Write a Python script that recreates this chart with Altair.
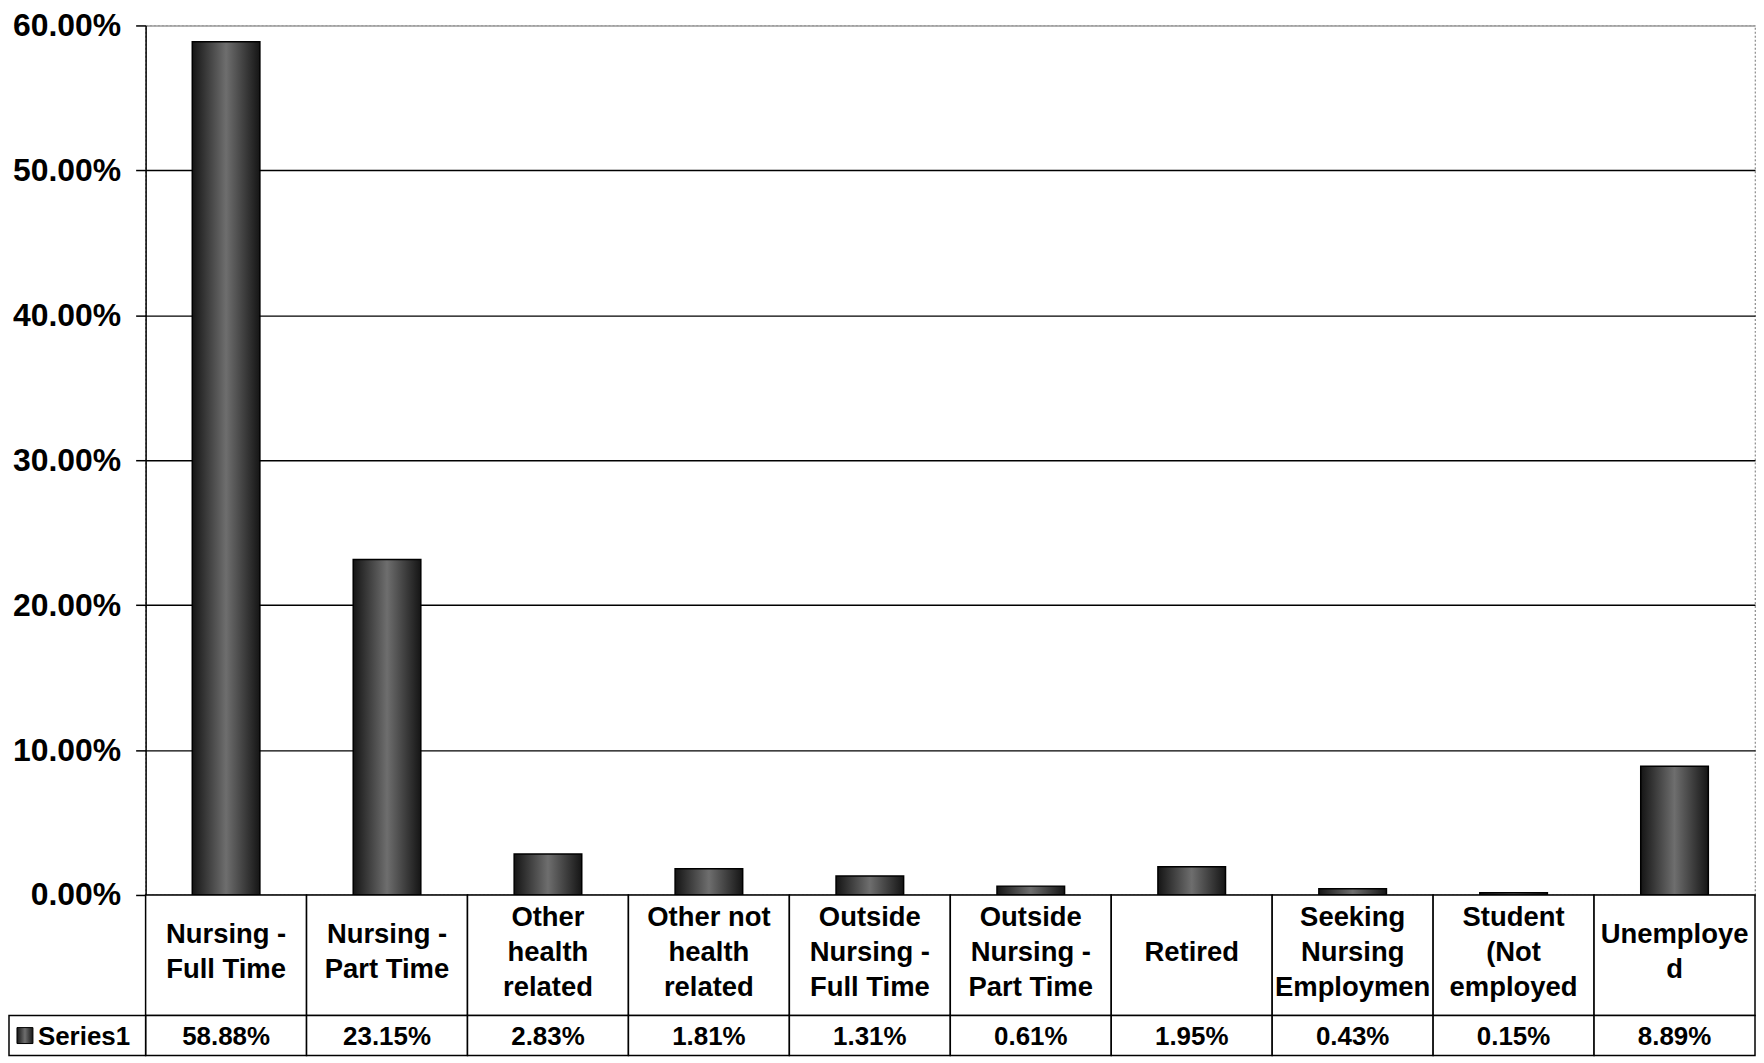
import altair as alt
import pandas as pd

categories = [
    "Nursing - Full Time", "Nursing - Part Time", "Other health related",
    "Other not health related", "Outside Nursing - Full Time",
    "Outside Nursing - Part Time", "Retired", "Seeking Nursing Employmen",
    "Student (Not employed", "Unemployed",
]
label_lines = [
    "Nursing -|Full Time", "Nursing -|Part Time", "Other|health|related",
    "Other not|health|related", "Outside|Nursing -|Full Time",
    "Outside|Nursing -|Part Time", "Retired", "Seeking|Nursing|Employmen",
    "Student|(Not|employed", "Unemploye|d",
]
values = [58.88, 23.15, 2.83, 1.81, 1.31, 0.61, 1.95, 0.43, 0.15, 8.89]
y_ticks = [0, 10, 20, 30, 40, 50, 60]
series_name = "Series1"

df = pd.DataFrame({
    "category": categories,
    "label": label_lines,
    "value": values,
    "value_text": [f"{v:.2f}%" for v in values],
})
series_df = pd.DataFrame({"name": [series_name]})

W = 1614
H = 872
ROW1 = 121
ROW2 = 40
LH = 35
FONT = "Liberation Sans"

bar_fill = alt.LinearGradient(
    gradient="linear",
    stops=[
        alt.GradientStop(color="#151515", offset=0),
        alt.GradientStop(color="#6e6e6e", offset=0.5),
        alt.GradientStop(color="#151515", offset=1),
    ],
    x1=0, x2=1, y1=0, y2=0,
)

xb = alt.X("category:N", sort=categories,
           scale=alt.Scale(domain=categories, paddingInner=0.58, paddingOuter=0.29),
           axis=None)
xt = alt.X("category:N", sort=categories,
           scale=alt.Scale(domain=categories, paddingInner=0, paddingOuter=0),
           axis=None)

bars = alt.Chart(df).mark_bar(color=bar_fill, stroke="black", strokeWidth=1.5).encode(
    x=xb,
    y=alt.Y("value:Q",
            scale=alt.Scale(domain=[0, 60], nice=False),
            axis=alt.Axis(
                values=y_ticks,
                labelExpr="format(datum.value, '.2f') + '%'",
                labelFont=FONT, labelFontSize=32, labelFontWeight="bold",
                labelColor="black", labelPadding=15,
                tickSize=10, tickColor="black", tickWidth=1.5,
                domainColor="black", domainWidth=1.5,
                grid=True,
                gridColor={"condition": {"test": "datum.value >= 60", "value": "#9a9a9a"},
                           "value": "black"},
                gridWidth=1.4,
                title=None,
            )),
)

cells_cat = alt.Chart(df).mark_rect(fill="white", stroke="black", strokeWidth=1.5).encode(
    x=xt, y=alt.value(H), y2=alt.value(H + ROW1))
cells_val = alt.Chart(df).mark_rect(fill="white", stroke="black", strokeWidth=1.5).encode(
    x=xt, y=alt.value(H + ROW1), y2=alt.value(H + ROW1 + ROW2))

row1_center = H + 58
cat_layers = []
for n in (1, 2, 3):
    cat_layers.append(
        alt.Chart(df).transform_calculate(
            lines="split(datum.label, '|')"
        ).transform_calculate(
            n="length(datum.lines)"
        ).transform_filter(
            f"datum.n == {n}"
        ).mark_text(font=FONT, fontSize=27.5, fontWeight="bold", lineHeight=LH,
                    baseline="middle", align="center", color="black").encode(
            x=xt, y=alt.value(row1_center - (n - 1) * LH / 2), text="lines:N")
    )

val_text = alt.Chart(df).mark_text(font=FONT, fontSize=26, fontWeight="bold",
                                   baseline="middle", align="center", color="black").encode(
    x=xt, y=alt.value(H + ROW1 + ROW2 / 2 + 1), text="value_text:N")

series_cell = alt.Chart(series_df).mark_rect(fill="white", stroke="black", strokeWidth=1.5).encode(
    x=alt.value(-137), x2=alt.value(0),
    y=alt.value(H + ROW1), y2=alt.value(H + ROW1 + ROW2))
series_key = alt.Chart(series_df).mark_rect(color=bar_fill, stroke="black", strokeWidth=1).encode(
    x=alt.value(-129), x2=alt.value(-113),
    y=alt.value(H + ROW1 + 12), y2=alt.value(H + ROW1 + 28))
series_text = alt.Chart(series_df).mark_text(font=FONT, fontSize=26, fontWeight="bold",
                                             baseline="middle", align="left", color="black").encode(
    x=alt.value(-108), y=alt.value(H + ROW1 + ROW2 / 2 + 1), text="name:N")

chart = alt.layer(
    bars, cells_cat, cells_val, *cat_layers, val_text, series_cell, series_key, series_text
).resolve_scale(x="independent").properties(
    width=W, height=H, background="white", padding=0
).configure_view(stroke="#8a8a8a", strokeDash=[2, 2], strokeWidth=1.2)

chart.save("out.html", embed_options={"renderer": "svg", "actions": False})
